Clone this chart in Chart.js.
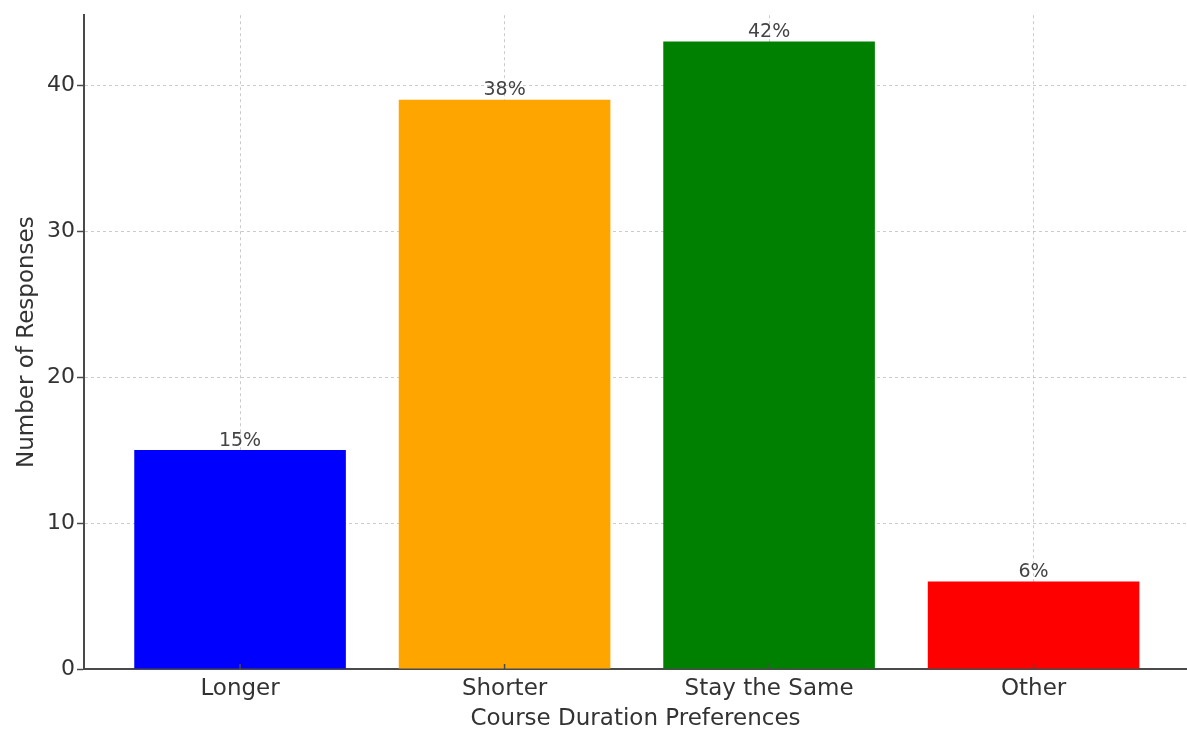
<!DOCTYPE html>
<html>
<head>
<meta charset="utf-8">
<title>Course Duration Preferences</title>
<script src="https://cdn.jsdelivr.net/npm/chart.js@4.4.1/dist/chart.umd.min.js"></script>
<style>
  html, body { margin: 0; padding: 0; background: #ffffff; overflow: hidden; }
  #chart { display: block; }
</style>
</head>
<body>
<canvas id="chart" width="1187" height="729"></canvas>
<script>
// Survey answers: how long should the course be?
const categories = ['Longer', 'Shorter', 'Stay the Same', 'Other'];
const responses = [15, 39, 43, 6];
const barColors = ['#0000ff', '#ffa500', '#008000', '#ff0000'];
const yTicks = [0, 10, 20, 30, 40];

const totalResponses = responses.reduce((a, b) => a + b, 0);
const percentLabels = responses.map(v => Math.round(v / totalResponses * 100) + '%');

const FONT = "'DejaVu Sans', 'Liberation Sans', sans-serif";
const TEXT = '#333333';
const AXIS = '#4a4a4a';
const GRID = 'rgba(170,170,170,0.6)';

// Share labels above each bar
const barLabels = {
  id: 'barLabels',
  afterDraw(chart) {
    const ctx = chart.ctx;
    const meta = chart.getDatasetMeta(0);
    ctx.save();
    ctx.font = '19px ' + FONT;
    ctx.fillStyle = '#444444';
    ctx.textAlign = 'center';
    ctx.textBaseline = 'bottom';
    meta.data.forEach((bar, i) => {
      ctx.fillText(percentLabels[i], bar.x, bar.y);
    });
    ctx.restore();
  }
};

// Short inward tick marks on the category axis
const innerTicks = {
  id: 'innerTicks',
  afterDraw(chart) {
    const xs = chart.scales.x;
    const y0 = chart.scales.y.getPixelForValue(0);
    const ctx = chart.ctx;
    ctx.save();
    ctx.strokeStyle = AXIS;
    ctx.lineWidth = 1.5;
    categories.forEach((c, i) => {
      const px = xs.getPixelForValue(i);
      ctx.beginPath();
      ctx.moveTo(px, y0);
      ctx.lineTo(px, y0 - 5);
      ctx.stroke();
    });
    ctx.restore();
  }
};

new Chart(document.getElementById('chart'), {
  type: 'bar',
  data: {
    datasets: [{
      data: categories.map((c, i) => ({ x: i, y: responses[i] })),
      backgroundColor: barColors,
      borderWidth: 0,
      barPercentage: 0.8,
      categoryPercentage: 1.0
    }]
  },
  options: {
    responsive: false,
    animation: false,
    layout: { padding: { top: 14, right: 0, left: 0, bottom: 0 } },
    plugins: {
      legend: { display: false },
      tooltip: { enabled: false }
    },
    scales: {
      x: {
        type: 'linear',
        position: 'bottom',
        min: -0.59,
        max: 3.58,
        offset: false,
        z: 1,
        afterFit(axis) { axis.height = 60; },
        afterBuildTicks(axis) { axis.ticks = categories.map((c, i) => ({ value: i })); },
        ticks: {
          autoSkip: false,
          maxRotation: 0,
          padding: 6,
          color: TEXT,
          font: { family: FONT, size: 23 },
          callback: v => (categories[v] !== undefined) ? categories[v] : ''
        },
        grid: {
          color: GRID,
          lineWidth: 1,
          offset: false,
          drawTicks: false
        },
        border: { display: true, color: AXIS, width: 2, dash: [3, 3] },
        title: {
          display: true,
          text: 'Course Duration Preferences',
          color: TEXT,
          font: { family: FONT, size: 23, lineHeight: 1.2 },
          padding: { top: 0, bottom: -4 }
        }
      },
      y: {
        min: 0,
        max: 44.8,
        z: 1,
        afterFit(axis) { axis.width = 84; },
        afterBuildTicks(axis) { axis.ticks = yTicks.map(v => ({ value: v })); },
        ticks: {
          padding: 2,
          color: TEXT,
          font: { family: FONT, size: 22 }
        },
        grid: {
          color: GRID,
          lineWidth: 1,
          drawTicks: true,
          tickLength: 7,
          tickColor: AXIS,
          tickWidth: 1.5,
          tickBorderDash: []
        },
        border: { display: true, color: AXIS, width: 2, dash: [3, 3] },
        title: {
          display: true,
          text: 'Number of Responses',
          color: TEXT,
          font: { family: FONT, size: 23, lineHeight: 1.2 },
          padding: { top: 13, bottom: 0 }
        }
      }
    }
  },
  plugins: [barLabels, innerTicks]
});
</script>
</body>
</html>
